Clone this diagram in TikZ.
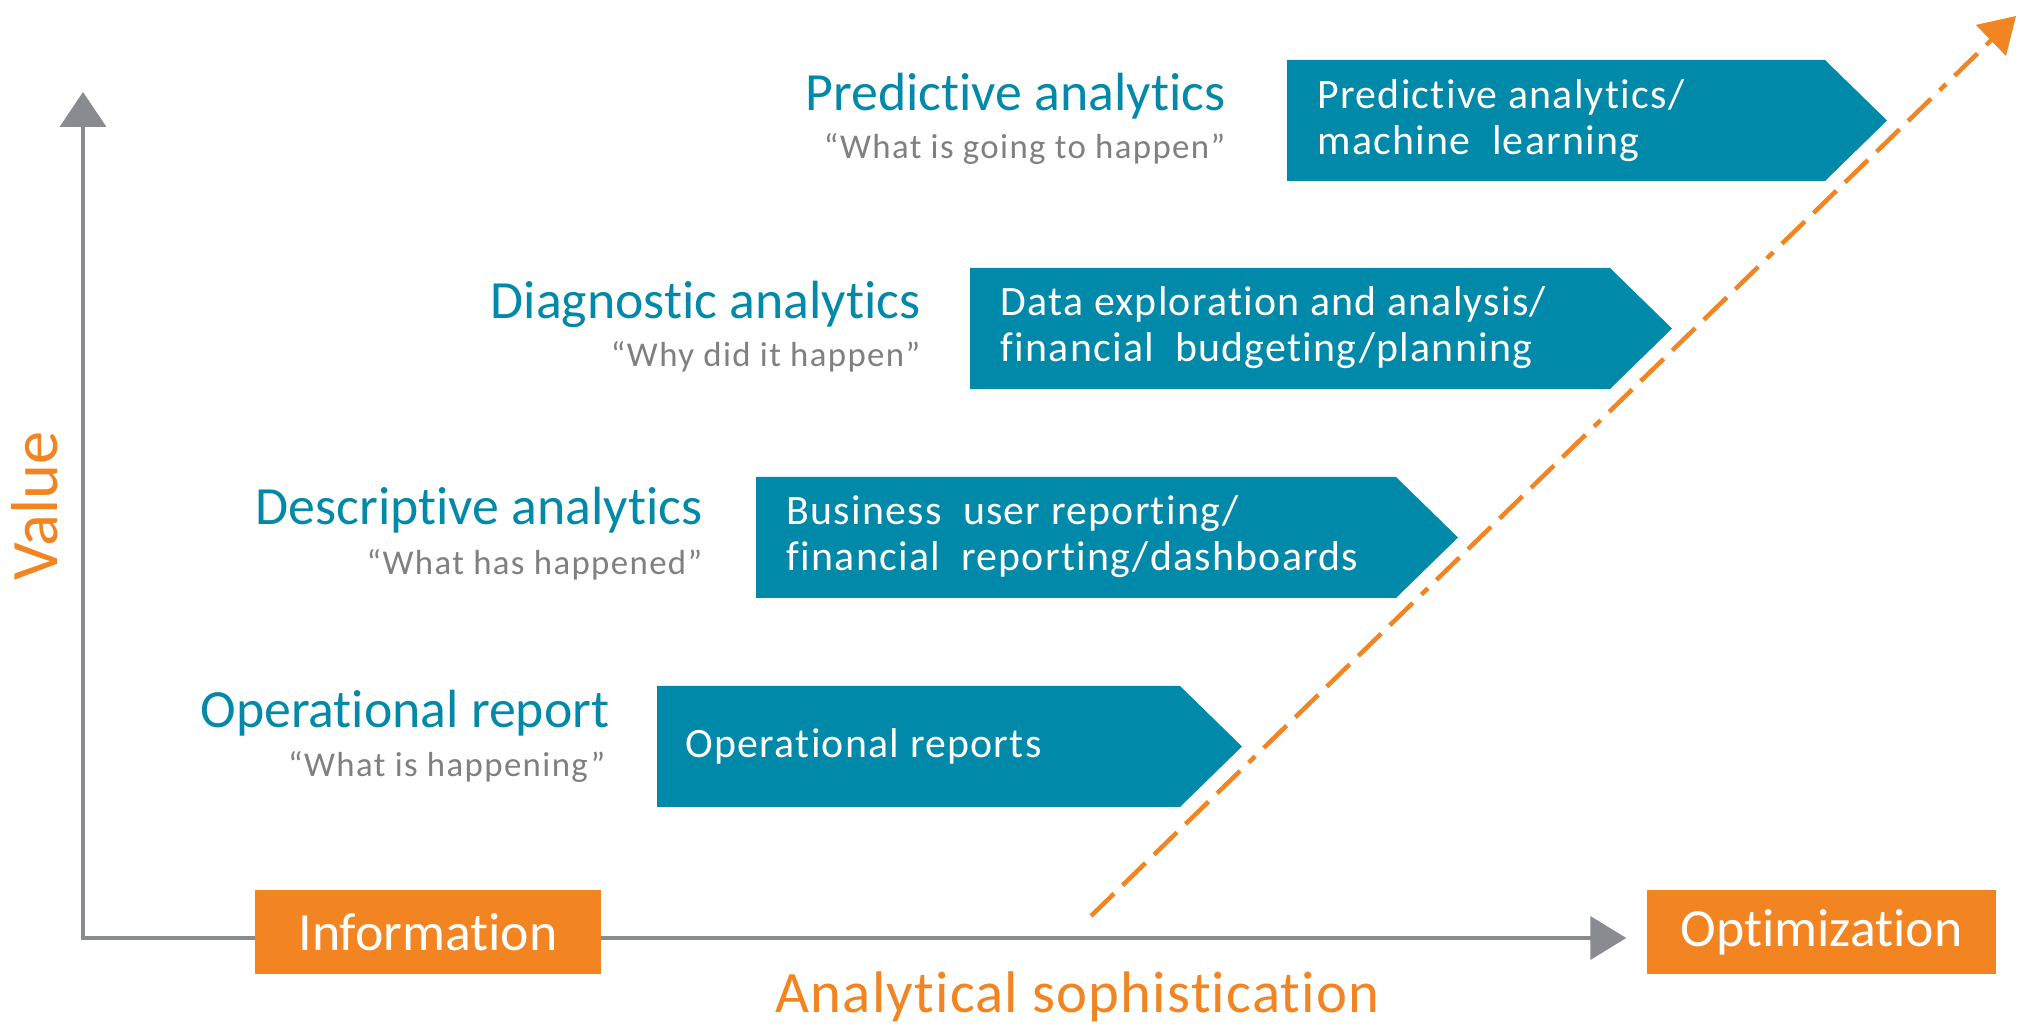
\documentclass[tikz,border=0pt]{standalone}
\usepackage{fontspec}
\setmainfont{Carlito}[Ligatures={TeX,NoCommon}]
\usetikzlibrary{arrows.meta}
\definecolor{tealblue}{HTML}{0089A8}
\definecolor{barorange}{HTML}{F28522}
\definecolor{axisgray}{HTML}{888B8F}
\definecolor{quotegray}{HTML}{808080}
\begin{document}
\begin{tikzpicture}[
				x=0.1mm, y=-0.1mm,
				heading/.style={anchor=base east, inner sep=0pt, text=tealblue, font=\fontsize{15.3}{16}\selectfont},
				question/.style={anchor=base east, inner sep=0pt, text=quotegray, font=\fontsize{9.9}{11}\selectfont\addfontfeatures{LetterSpace=4}},
				stagebox/.style={fill=tealblue},
				stagetext/.style={anchor=west, inner sep=0pt, text=white, align=left, font=\fontsize{11.9}{13.1}\selectfont\addfontfeatures{LetterSpace=3}},
				endbox/.style={fill=barorange, text=white, minimum width=34.6mm, minimum height=8.4mm, inner sep=0pt, font=\fontsize{15.3}{16}\selectfont},
				axislabel/.style={inner sep=0pt, text=barorange},
				axis/.style={draw=axisgray, line width=0.4mm},
				trend/.style={draw=barorange, line width=0.45mm, dash pattern=on 3.2mm off 1.2mm on 3.2mm off 1.2mm on 3.2mm off 1.2mm on 3.2mm off 1.2mm on 3.2mm off 1.2mm on 0.9mm off 1.2mm}
			]
			\path[use as bounding box, fill=white] (0,0) rectangle (2023,1024);
			\foreach \l/\r/\t in {1287/1825/60, 970/1610/268, 756/1396/477, 657/1180/686}
				\fill[stagebox] (\l,\t) -- (\r,\t) -- (\r+62,\t+60.5) -- (\r,\t+121) -- (\l,\t+121) -- cycle;
			\node[endbox, minimum width=34.9mm] (optimization) at (1821.5,932) {Optimization};
			\coordinate (origin) at (83,938);
			\coordinate (valuetop) at (83,92);
			\coordinate (sophtip) at ([xshift=-2mm]optimization.west);
			\draw[axis, {Triangle[length=3.5mm, width=4.6mm]}-{Triangle[length=3.6mm, width=4.3mm]}] (valuetop) -- (origin) -- (sophtip |- origin);
			\node[endbox] (information) at (428,932) {Information};
			\coordinate (trendstart) at (1091,916);
			\coordinate (trendend) at (2016,16);
			\draw[trend, -{Triangle[length=3.5mm, width=4.2mm]}] (trendstart) -- (trendend);
			\node[heading] (predhead) at (1226,111) {Predictive analytics};
			\node[question] (predq) at (1226,159) {“What is going to happen”};
			\node[heading] (diaghead) at (921,319) {Diagnostic analytics};
			\node[question] (diagq) at (921,367) {“Why did it happen”};
			\node[heading] (deschead) at (703,525) {Descriptive analytics};
			\node[question] (descq) at (703,575) {“What has happened”};
			\node[heading] (operhead) at (610,728) {Operational report};
			\node[question] (operq) at (606,777) {“What is happening”};
			\node[stagetext] (predtext) at (1317,121) {Predictive analytics/\\machine\ \ learning};
			\node[stagetext] (diagtext) at (1000,328) {Data exploration and analysis/\\financial\ \ budgeting/planning};
			\node[stagetext] (desctext) at (786,537) {Business\ \ user reporting/\\financial\ \ reporting/dashboards};
			\node[stagetext, anchor=base west] (opertext) at (685,758) {Operational reports};
			\node[axislabel, anchor=base, font=\fontsize{16.7}{18}\selectfont\addfontfeatures{LetterSpace=2}] (sophlabel) at (1077.5,1012) {Analytical sophistication};
			\node[axislabel, rotate=90, anchor=base, font=\fontsize{18.9}{20}\selectfont] (valuelabel) at (57,506) {Value};
		\end{tikzpicture}
\end{document}
